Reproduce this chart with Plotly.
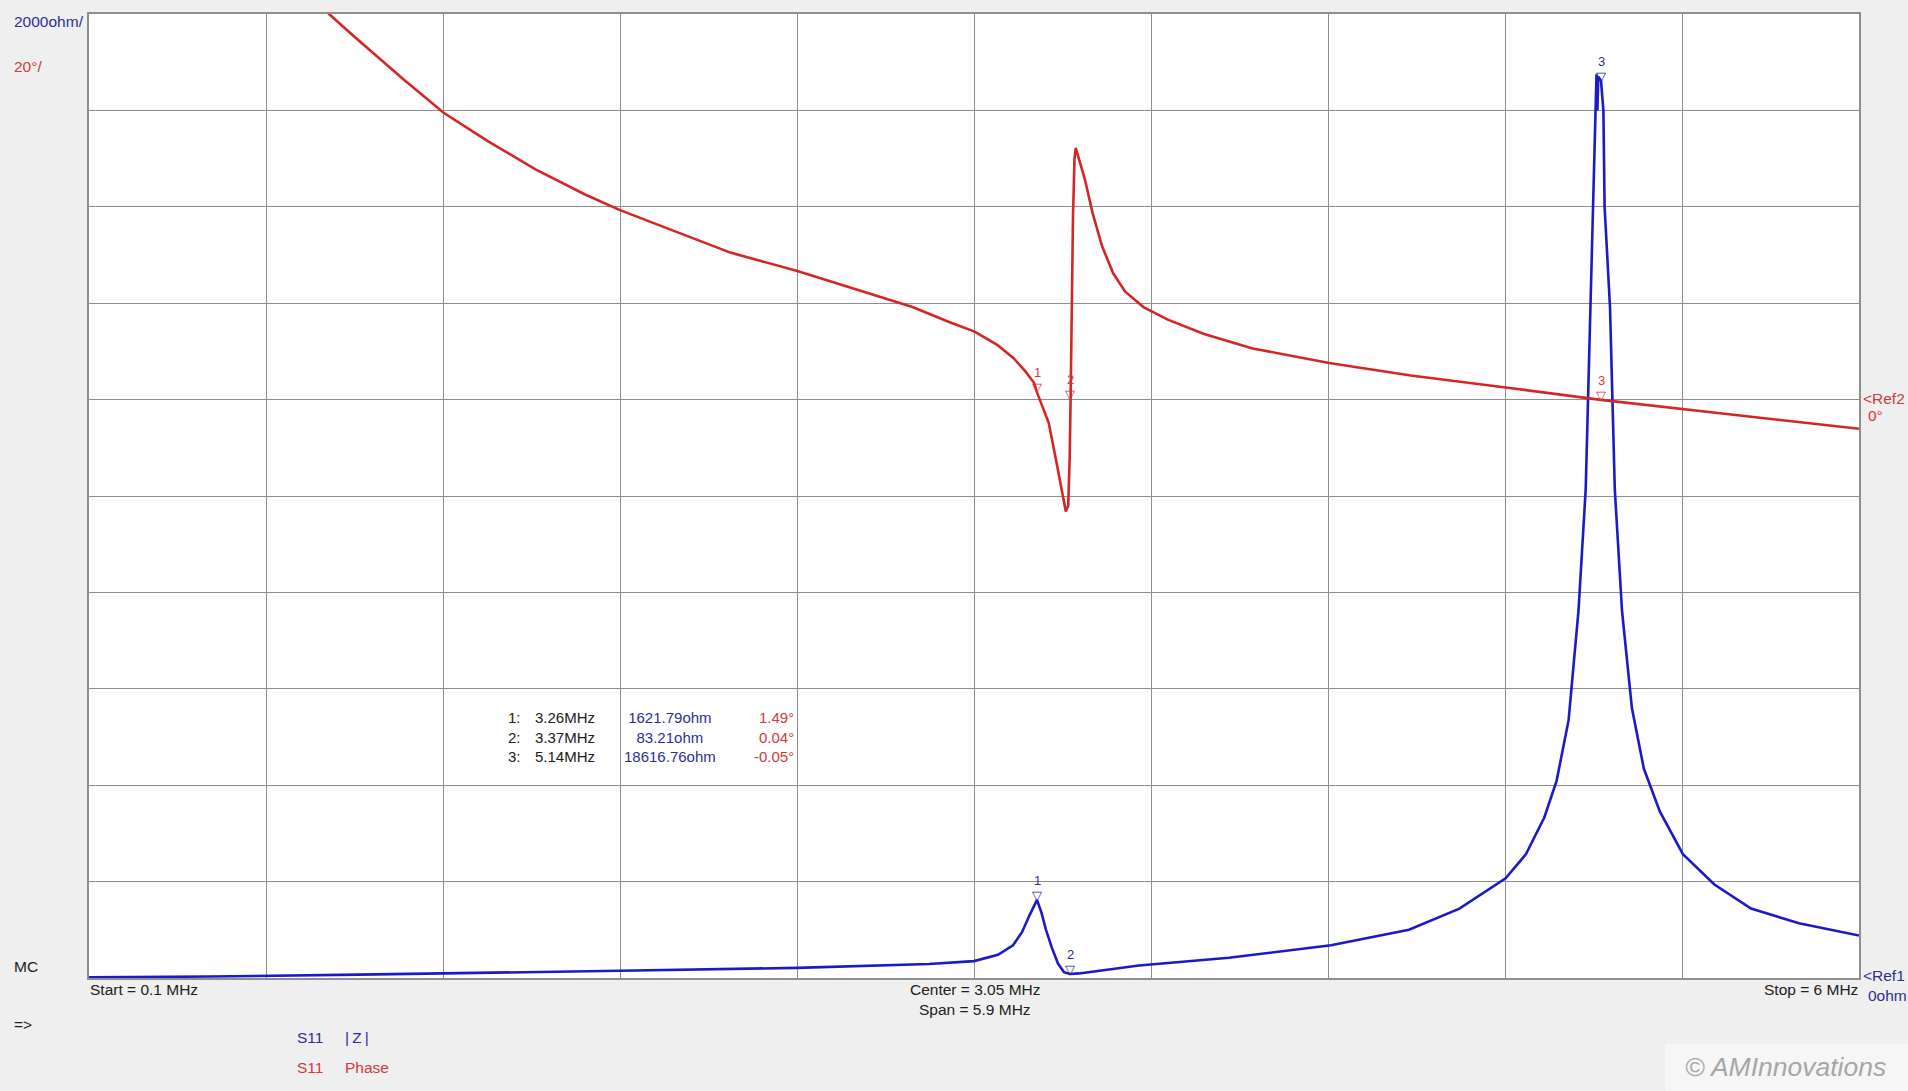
import plotly.graph_objects as go

# S11 |Z| trace (MHz, ohm)
z_freq = [0.10, 0.50, 1.00, 1.50, 1.87, 2.46, 2.90, 3.05, 3.13, 3.18, 3.21, 3.235, 3.26,
          3.275, 3.29, 3.31, 3.33, 3.35, 3.37, 3.40, 3.45, 3.60, 3.90, 4.24, 4.50, 4.668,
          4.822, 4.890, 4.951, 4.992, 5.032, 5.065, 5.089, 5.105, 5.118, 5.122, 5.125,
          5.128, 5.131, 5.14, 5.148, 5.152, 5.170, 5.186, 5.210, 5.243, 5.283, 5.336,
          5.413, 5.518, 5.640, 5.80, 6.00]
z_ohm = [15, 30, 70, 110, 150, 210, 290, 350, 480, 680, 950, 1300, 1621.79,
         1350, 1000, 620, 300, 120, 83.21, 95, 140, 260, 420, 680, 1000, 1440,
         2070, 2570, 3330, 4090, 5350, 7620, 10140, 13920, 17300, 18400, 18750,
         18000, 18700, 18616.76, 18000, 16000, 13920, 10140, 7620, 5600, 4340, 3455,
         2570, 1940, 1440, 1135, 880]

# S11 Phase trace (MHz, degrees)
ph_freq = [0.10, 0.40, 0.70, 0.80, 0.902, 0.983, 1.064, 1.145, 1.282, 1.428, 1.590,
           1.752, 1.870, 2.076, 2.238, 2.461, 2.643, 2.845, 2.967, 3.052, 3.129, 3.182,
           3.222, 3.250, 3.26, 3.275, 3.299, 3.323, 3.340, 3.356, 3.364, 3.369, 3.372,
           3.375, 3.380, 3.385, 3.389, 3.395, 3.420, 3.445, 3.477, 3.514, 3.554, 3.615,
           3.696, 3.817, 3.979, 4.234, 4.506, 4.822, 5.14, 5.559, 6.00]
ph_deg = [160, 120, 92, 86, 79.9, 75.4, 70.9, 66.6, 59.5, 53.7, 47.7,
          42.6, 39.3, 34.3, 30.5, 26.7, 23.2, 19.2, 16.1, 14.1, 11.3, 8.6,
          5.8, 3.5, 1.49, -1.0, -4.8, -12.4, -18.2, -23.2, -22, -12, 0.04,
          20, 38, 50, 52.2, 51, 45.6, 38.8, 31.8, 26.2, 22.4, 19.2,
          16.6, 13.6, 10.6, 7.6, 5.0, 2.5, -0.05, -3.0, -6.05]

# markers
mk_id = ["1", "2", "3"]
mk_freq = [3.26, 3.37, 5.14]
mk_ohm = [1621.79, 83.21, 18616.76]
mk_deg = [1.49, 0.04, -0.05]

BLUE = "#1a1ac8"
RED = "#d42626"
BLUE_TXT = "#2e2e96"
RED_TXT = "#d03a3a"
FONT = "Liberation Sans, Arial, sans-serif"

# plot area in page pixels
L, R, T, B = 89, 1859, 12, 978


def px(x):
    return (x - L) / (R - L)


def py(y):
    return (B - y) / (B - T)


fig = go.Figure()

fig.add_trace(go.Scatter(x=z_freq, y=z_ohm, mode="lines",
                         line=dict(color=BLUE, width=2.6), name="S11 |Z|"))
fig.add_trace(go.Scatter(x=ph_freq, y=ph_deg, mode="lines", yaxis="y2",
                         line=dict(color=RED, width=2.6), name="S11 Phase"))

ann = []


def label(x, y, text, color="#202020", size=15.5, xanchor="left", **kw):
    ann.append(dict(xref="paper", yref="paper", x=px(x), y=py(y), text=text,
                    showarrow=False, xanchor=xanchor, yanchor="middle",
                    font=dict(family=FONT, size=size, color=color), **kw))


# marker glyphs on both traces
for i, f in enumerate(mk_freq):
    for yref, val, col in (("y", mk_ohm[i], BLUE_TXT), ("y2", mk_deg[i], RED_TXT)):
        ann.append(dict(xref="x", yref=yref, x=f, y=val, text="▽", showarrow=False,
                        xanchor="center", yanchor="bottom", yshift=-5,
                        font=dict(family="DejaVu Sans", size=13, color=col)))
        ann.append(dict(xref="x", yref=yref, x=f, y=val, text=mk_id[i], showarrow=False,
                        xanchor="center", yanchor="bottom", yshift=10,
                        font=dict(family=FONT, size=13, color=col)))

# axis scale texts
label(12, 20, "2000ohm/", BLUE_TXT)
label(12, 65, "20°/", RED_TXT)
label(12, 966, "MC")
label(12, 1025, "=>")
label(88, 990, "Start = 0.1 MHz")
label(975, 990, "Center = 3.05 MHz", xanchor="center")
label(975, 1010, "Span = 5.9 MHz", xanchor="center")
label(1860, 990, "Stop = 6 MHz", xanchor="right")
label(1861, 975, "&lt;Ref1", BLUE_TXT)
label(1866, 996, "0ohm", BLUE_TXT)
label(1861, 397, "&lt;Ref2", RED_TXT)
label(1866, 414, "0°", RED_TXT)
label(295, 1038, "S11", BLUE_TXT)
label(343, 1038, "|\u2009Z\u2009|", BLUE_TXT)
label(295, 1068, "S11", RED_TXT)
label(343, 1068, "Phase", RED_TXT)

# marker readout table
label(506, 737, "<br>".join(m + ":" for m in mk_id), align="left", size=15)
label(533, 737, "<br>".join(f"{f:.2f}MHz" for f in mk_freq), align="left", size=15)
label(670, 737, "<br>".join(f"{v:.2f}ohm" for v in mk_ohm), BLUE_TXT,
      xanchor="center", align="center", bgcolor="white", size=15)
label(796, 737, "<br>".join(f"{d:.2f}°" for d in mk_deg), RED_TXT,
      xanchor="right", align="right", size=15)

# watermark
label(1683, 1067, "© AMInnovations", "#a6a6a6", size=26.5)
ann[-1]["font"]["style"] = "italic"

fig.update_layout(
    width=1908, height=1091,
    margin=dict(l=L, r=1908 - R, t=T, b=1091 - B),
    paper_bgcolor="#efefef", plot_bgcolor="white",
    showlegend=False,
    annotations=ann,
    shapes=[dict(type="rect", xref="paper", yref="paper", x0=px(1665), x1=px(1908),
                 y0=py(1044), y1=py(1091), fillcolor="#f6f6f6", line=dict(width=0),
                 layer="below")],
    xaxis=dict(range=[0.1, 6.0], tick0=0.1, dtick=0.59, showticklabels=False,
               showgrid=True, gridcolor="#8e8e8e", gridwidth=1.2, zeroline=False,
               showline=True, mirror=True, linecolor="#8e8e8e", linewidth=1.5, ticks=""),
    yaxis=dict(range=[0, 20000], dtick=2000, showticklabels=False,
               showgrid=True, gridcolor="#8e8e8e", gridwidth=1.2, zeroline=False,
               showline=True, mirror=True, linecolor="#8e8e8e", linewidth=1.5, ticks=""),
    yaxis2=dict(range=[-120, 80], overlaying="y", showgrid=False, zeroline=False,
                showticklabels=False, ticks=""),
)

fig.write_html("out.html", config={"displayModeBar": False},
               post_script="document.body.style.margin='0';document.body.style.overflow='hidden';")
